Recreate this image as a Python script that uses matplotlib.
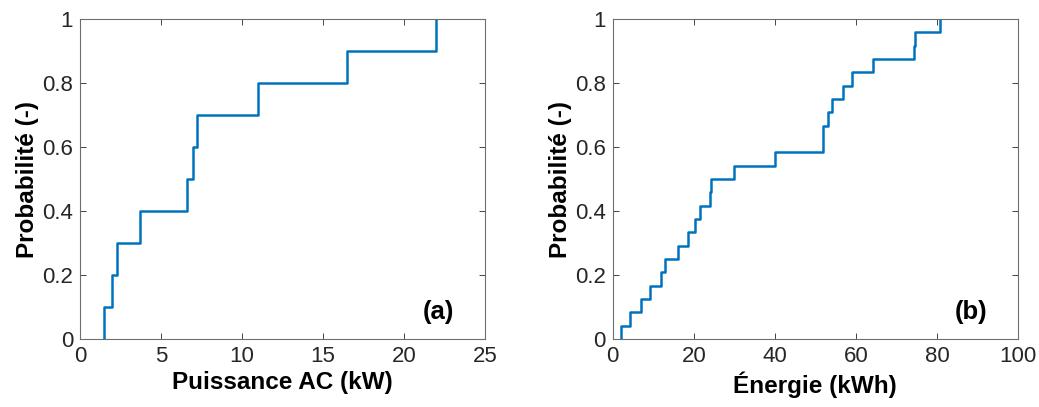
import numpy as np
import matplotlib
matplotlib.use("Agg")
import matplotlib.pyplot as plt

plt.rcParams["font.family"] = ["Liberation Sans", "DejaVu Sans"]

# valeurs triées
puissance = [1.5, 2.0, 2.3, 3.7, 6.6, 7.0, 7.2, 11.0, 16.5, 22.0]
energie = [2.1, 4.3, 7.0, 9.2, 12.0, 12.9, 16.0, 18.5, 20.4, 21.6, 23.9, 24.3,
           30.0, 40.0, 52.0, 52.0, 53.1, 54.0, 56.9, 59.1, 64.2, 74.3, 74.7, 80.8]

xlabels = ["Puissance AC (kW)", "Énergie (kWh)"]
panels = ["(a)", "(b)"]
xlims = [(0, 25), (0, 100)]
xticks = [np.arange(0, 26, 5), np.arange(0, 101, 20)]
yticks = [0, 0.2, 0.4, 0.6, 0.8, 1]
ytick_labels = ["0", "0.2", "0.4", "0.6", "0.8", "1"]

fig = plt.figure(figsize=(10.39, 4.07), dpi=100)
W, H = 1039, 407
boxes = [(80, 19, 405, 320), (612.7, 19, 405.3, 320)]
text_col = "#262626"

for i, data in enumerate([puissance, energie]):
    x0, y0, w, h = boxes[i]
    ax = fig.add_axes([x0 / W, 1 - (y0 + h) / H, w / W, h / H])
    x = np.sort(np.array(data))
    n = len(x)
    xs = np.r_[x[0], x]
    ys = np.arange(n + 1) / n
    ax.step(xs, ys, where="post", color="#0072BD", lw=1.8)
    ax.set_xlim(*xlims[i])
    ax.set_ylim(0, 1)
    ax.set_xticks(xticks[i])
    ax.set_yticks(yticks)
    ax.set_yticklabels(ytick_labels)
    ax.tick_params(direction="in", length=4, width=0.6, colors=text_col,
                   labelsize=16, top=True, right=True, pad=5)
    for s in ax.spines.values():
        s.set_color("#6e6e6e")
        s.set_linewidth(0.8)
    ax.set_xlabel(xlabels[i], fontsize=17.5, fontweight="bold", labelpad=3)
    ax.set_ylabel("Probabilité (-)", fontsize=17.5, fontweight="bold", labelpad=2)
    ax.text(0.885, 0.085, panels[i], transform=ax.transAxes, fontsize=18.5,
            fontweight="bold", ha="center", va="center")

fig.savefig("out.png", dpi=100)
